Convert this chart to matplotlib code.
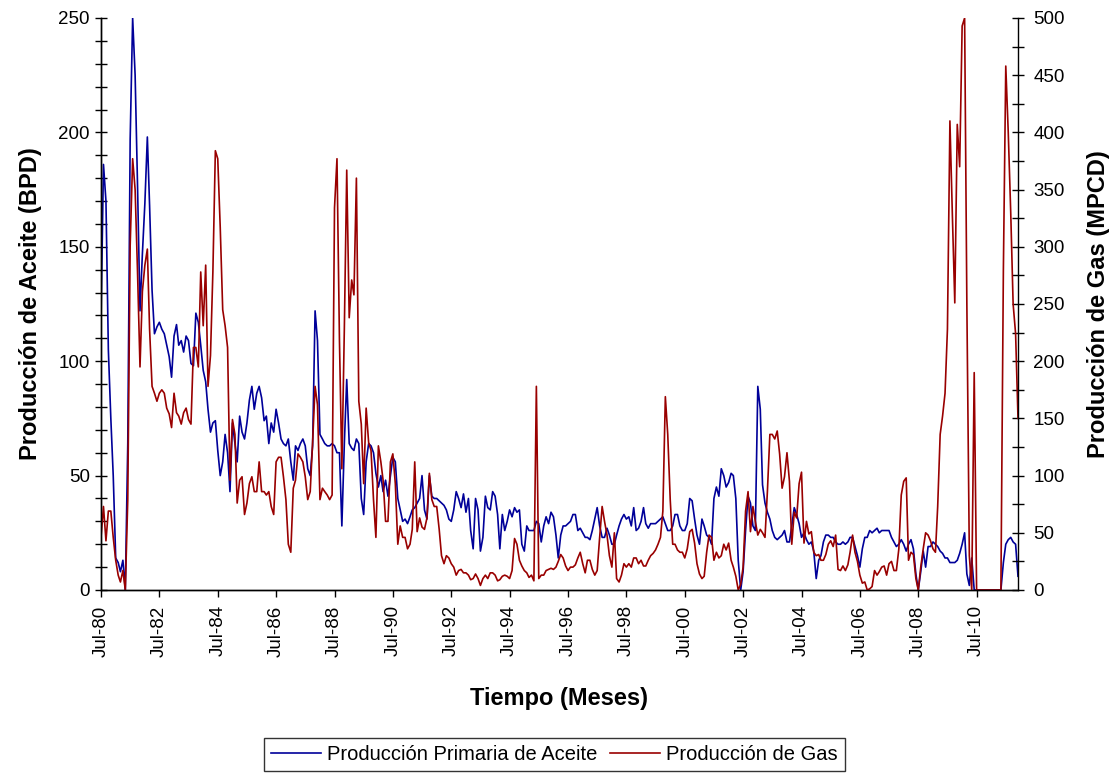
import matplotlib
matplotlib.use("Agg")
import matplotlib.pyplot as plt
import pandas as pd
from matplotlib.ticker import MultipleLocator, NullLocator

plt.rcParams['font.family'] = ['Liberation Sans', 'DejaVu Sans']

# Monthly production, starting July 1980
start_month = '1980-07-01'

# Primary oil production (BPD)
oil = [
    118, 186, 170, 105, 75, 50, 14, 12, 8, 13, 0, 64,
    197, 250, 225, 177, 122, 147, 169, 198, 168, 131, 112, 115,
    117, 114, 112, 107, 102, 93, 111, 116, 107, 109, 104, 111,
    109, 99, 98, 121, 117, 107, 96, 91, 79, 69, 73, 74,
    61, 50, 56, 68, 60, 43, 73, 64, 56, 76, 69, 66,
    73, 83, 89, 79, 86, 89, 84, 74, 76, 64, 73, 69,
    79, 73, 66, 64, 63, 66, 56, 48, 63, 61, 64, 66,
    63, 53, 50, 63, 122, 109, 68, 66, 64, 63, 63, 64,
    63, 60, 60, 28, 64, 92, 64, 62, 61, 66, 64, 40,
    33, 56, 64, 63, 60, 51, 45, 50, 43, 48, 41, 50,
    58, 56, 40, 35, 30, 31, 29, 32, 35, 36, 38, 40,
    50, 35, 31, 50, 41, 40, 40, 39, 38, 37, 35, 31,
    30, 35, 43, 40, 36, 42, 34, 40, 26, 18, 40, 35,
    17, 23, 41, 36, 35, 43, 41, 33, 18, 33, 26, 30,
    35, 32, 36, 34, 35, 20, 17, 28, 26, 26, 26, 30,
    29, 21, 28, 32, 29, 34, 32, 24, 14, 24, 28, 28,
    29, 30, 33, 33, 26, 27, 25, 23, 23, 22, 26, 31,
    36, 28, 23, 23, 27, 24, 20, 20, 24, 28, 31, 33,
    31, 32, 28, 36, 26, 27, 30, 36, 29, 27, 29, 29,
    29, 30, 31, 32, 29, 26, 26, 28, 33, 33, 28, 26,
    26, 29, 40, 39, 31, 24, 20, 31, 28, 24, 23, 20,
    40, 45, 41, 53, 50, 45, 47, 51, 50, 40, 13, 0,
    8, 26, 41, 38, 28, 26, 89, 79, 46, 38, 34, 31,
    26, 23, 22, 23, 24, 26, 21, 21, 28, 36, 33, 29,
    23, 25, 22, 20, 21, 17, 5, 13, 15, 21, 24, 24,
    23, 23, 21, 20, 20, 21, 20, 21, 23, 23, 19, 15,
    10, 18, 23, 23, 26, 25, 26, 27, 25, 26, 26, 26,
    26, 23, 21, 19, 20, 22, 20, 17, 20, 22, 18, 7,
    0, 8, 17, 10, 19, 19, 21, 20, 19, 17, 16, 14,
    14, 12, 12, 12, 13, 16, 20, 25, 7, 2, 14, 0,
    0, 0, 0, 0, 0, 0, 0, 0, 0, 0, 0, 12,
    20, 22, 23, 21, 20, 6,
]

# Gas production (MPCD)
gas = [
    46, 73, 43, 69, 69, 46, 26, 13, 7, 17, 0, 79,
    301, 377, 350, 278, 195, 261, 284, 298, 228, 178, 172, 165,
    172, 175, 172, 159, 154, 142, 172, 155, 152, 145, 155, 159,
    149, 145, 212, 212, 195, 278, 231, 284, 178, 205, 278, 384,
    377, 317, 245, 231, 212, 96, 149, 136, 76, 96, 99, 66,
    76, 93, 99, 86, 86, 112, 86, 86, 83, 86, 73, 66,
    112, 116, 116, 99, 79, 40, 33, 89, 96, 119, 116, 112,
    99, 79, 86, 129, 178, 162, 79, 89, 86, 83, 79, 83,
    334, 377, 218, 106, 228, 367, 238, 271, 258, 360, 165, 145,
    93, 159, 129, 122, 79, 46, 126, 112, 96, 60, 60, 112,
    119, 93, 40, 56, 46, 46, 36, 40, 53, 112, 51, 63,
    55, 53, 63, 102, 79, 73, 73, 53, 30, 23, 30, 28,
    23, 20, 13, 17, 18, 15, 15, 13, 9, 10, 14, 10,
    4, 10, 13, 10, 15, 15, 13, 8, 9, 12, 13, 12,
    10, 17, 45, 40, 26, 21, 17, 15, 11, 13, 8, 178,
    10, 13, 13, 17, 18, 19, 18, 20, 25, 31, 28, 21,
    17, 20, 20, 22, 28, 33, 23, 15, 26, 26, 18, 13,
    17, 46, 73, 60, 48, 30, 20, 50, 10, 7, 13, 23,
    20, 23, 20, 28, 28, 23, 26, 21, 21, 26, 30, 32,
    35, 40, 46, 69, 169, 136, 79, 40, 40, 35, 33, 33,
    28, 36, 51, 53, 41, 23, 14, 10, 12, 33, 48, 46,
    26, 33, 28, 30, 40, 35, 41, 26, 20, 12, 0, 5,
    20, 69, 86, 51, 73, 60, 48, 53, 50, 46, 86, 136,
    136, 132, 139, 119, 89, 99, 120, 95, 40, 68, 63, 93,
    103, 41, 60, 49, 51, 33, 30, 31, 26, 26, 31, 40,
    43, 38, 48, 18, 17, 21, 17, 22, 33, 48, 33, 25,
    13, 6, 7, 0, 1, 3, 17, 13, 16, 20, 21, 13,
    23, 25, 17, 17, 36, 83, 95, 98, 26, 33, 31, 10,
    0, 20, 36, 50, 48, 43, 36, 33, 73, 136, 152, 172,
    228, 410, 327, 251, 407, 370, 493, 500, 250, 30, 0, 190,
    0, 0, 0, 0, 0, 0, 0, 0, 0, 0, 0, 280,
    458, 400, 330, 250, 224, 150,
]

months = pd.date_range(start_month, periods=len(oil), freq='MS')
tick_months = months[::24]
tick_labels = [f"Jul-{d:%y}" for d in tick_months]

oil_color = '#000099'
gas_color = '#990000'

fig = plt.figure(figsize=(11.14, 7.74), dpi=100)
ax = fig.add_axes([101 / 1114, 1 - 590 / 774, (1018 - 101) / 1114, (590 - 18) / 774])
ax2 = ax.twinx()

l1, = ax.plot(months, oil, color=oil_color, lw=1.2, label='Producción Primaria de Aceite')
l2, = ax2.plot(months, gas, color=gas_color, lw=1.2, label='Producción de Gas')

ax.set_xlim(months[0], months[-1])
ax.set_ylim(0, 250)
ax2.set_ylim(0, 500)

ax.yaxis.set_major_locator(MultipleLocator(50))
ax.yaxis.set_minor_locator(MultipleLocator(10))
ax2.yaxis.set_major_locator(MultipleLocator(50))
ax2.yaxis.set_minor_locator(MultipleLocator(25))

ax.set_xticks(tick_months)
ax.set_xticklabels(tick_labels, rotation=90)
ax.xaxis.set_minor_locator(NullLocator())

ax.tick_params(axis='x', direction='out', length=5, width=1, labelsize=13.5, pad=6)
ax.tick_params(axis='y', which='both', direction='inout', length=8, width=1, labelsize=13.5, pad=4)
ax2.tick_params(axis='y', which='both', direction='inout', length=8, width=1, labelsize=13.5, pad=7)

for a in (ax, ax2):
    a.spines['top'].set_visible(False)
    for s in ('left', 'right', 'bottom'):
        a.spines[s].set_linewidth(1.0)
ax.spines['right'].set_visible(False)

ax.set_xlabel('Tiempo (Meses)', fontsize=17, fontweight='bold', labelpad=22)
ax.set_ylabel('Producción de Aceite (BPD)', fontsize=17, fontweight='bold', labelpad=12)
ax2.set_ylabel('Producción de Gas (MPCD)', fontsize=17, fontweight='bold', labelpad=16)

leg = fig.legend([l1, l2], [l1.get_label(), l2.get_label()], loc='center',
                 bbox_to_anchor=(554.5 / 1114, 1 - 754.5 / 774), ncol=2,
                 fontsize=14.5, frameon=True, fancybox=False, edgecolor='black',
                 handlelength=2.5, handletextpad=0.3, columnspacing=0.6,
                 borderpad=0.35)
leg.get_frame().set_linewidth(1.0)

fig.savefig('out.png', dpi=100)
